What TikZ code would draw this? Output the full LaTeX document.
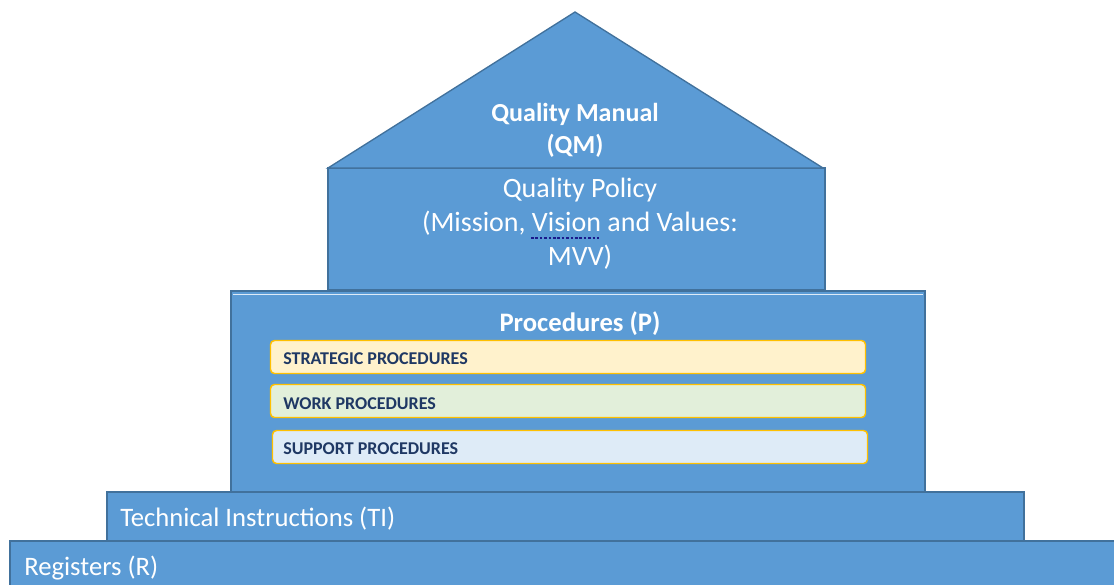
\documentclass[tikz,border=0pt]{standalone}
\usepackage{fontspec}
\setmainfont{Carlito}
\definecolor{qblue}{HTML}{5B9BD5}
\definecolor{qedge}{HTML}{41719C}
\definecolor{qnavy}{HTML}{1F3864}
\definecolor{qgold}{HTML}{FFC000}
\definecolor{qyellow}{HTML}{FFF2CC}
\definecolor{qgreen}{HTML}{E2EFDA}
\definecolor{qlblue}{HTML}{DEEBF7}
\definecolor{qdot}{HTML}{1A1A8C}
\tikzset{
  tier/.style={fill=qblue,draw=qedge,line width=1pt},
  probox/.style={fill=#1,draw=qgold,line width=1.1pt,rounded corners=3pt},
  wlabel/.style={text=white,inner sep=0pt},
  plabel/.style={text=qnavy,inner sep=0pt,anchor=west,font=\fontsize{13.5}{16}\selectfont\bfseries}
}
\begin{document}
\begin{tikzpicture}[x=0.75pt,y=-0.75pt]
\useasboundingbox (0,0) rectangle (1114,585);
% tiers
\path[tier] (10,541) rectangle (1120,590);
\path[tier] (107,492) rectangle (1024,541);
\path[tier] (231,291) rectangle (925,492);
\draw[white!80!qblue,line width=1pt] (233,294.5) -- (923,294.5);
\path[tier] (328,168) rectangle (825,290);
\path[tier] (328,168) -- (575,12) -- (823,168) -- cycle;
% procedure boxes
\node[probox=qyellow,minimum width=595*0.75pt,minimum height=33*0.75pt,inner sep=0pt] (sp) at (568,357) {};
\node[probox=qgreen,minimum width=595*0.75pt,minimum height=33*0.75pt,inner sep=0pt] (wp) at (568,401) {};
\node[probox=qlblue,minimum width=595*0.75pt,minimum height=33*0.75pt,inner sep=0pt] (up) at (570,447) {};
\node[plabel] (spt) at (283,358.5) {STRATEGIC PROCEDURES};
\node[plabel] (wpt) at (283,403.5) {WORK PROCEDURES};
\node[plabel] (upt) at (283,448.5) {SUPPORT PROCEDURES};
% texts
\node[wlabel,align=center,font=\fontsize{19.5}{24}\selectfont\bfseries] (qm) at (575,130) {Quality Manual\\(QM)};
\node[wlabel,align=center,font=\fontsize{21}{25.5}\selectfont] (qp) at (580,223.5) {Quality Policy\\(Mission, Vision and Values:\\MVV)};
\node[wlabel,font=\fontsize{20}{24}\selectfont\bfseries] (pp) at (580,324) {Procedures (P)};
\node[wlabel,anchor=west,font=\fontsize{20}{24}\selectfont] (ti) at (120,519) {Technical Instructions (TI)};
\node[wlabel,anchor=west,font=\fontsize{20}{24}\selectfont] (rr) at (24,568) {Registers (R)};
\coordinate (d1) at (531,237.5);
\coordinate (d2) at (599,237.5);
\draw[qdot,line width=1.5pt,dash pattern=on 2pt off 1.3pt] (d1) -- (d2);
\end{tikzpicture}
\end{document}
